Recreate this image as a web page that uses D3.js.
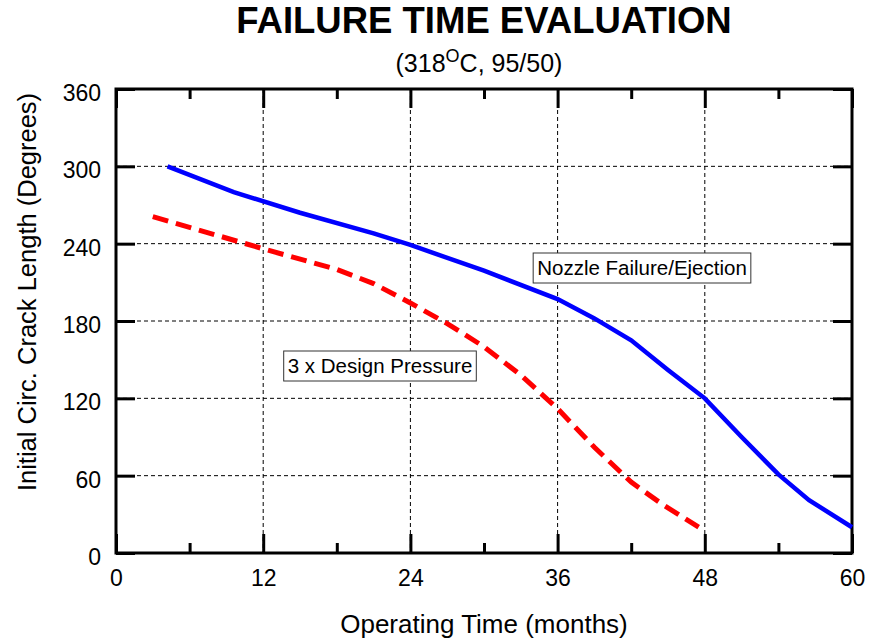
<!DOCTYPE html>
<html>
<head>
<meta charset="utf-8">
<script src="https://cdn.jsdelivr.net/npm/d3@7"></script>
<style>
  body { margin: 0; background: #fff; }
  svg { font-family: "Liberation Sans", Arial, sans-serif; }
</style>
</head>
<body>
<script>
// data (months, degrees)
const nozzleFailure = [
  [4.2, 300], [9.6, 280], [15, 264], [21, 248], [24, 239], [30, 219],
  [36, 197], [39, 182], [42, 165], [45, 142], [48, 120], [51, 90],
  [54, 61], [56.5, 41], [60, 20]
];
const designPressure = [
  [3, 261], [12, 236], [18, 220], [21, 209], [24, 194], [27, 178],
  [30, 160], [33, 138], [36, 112], [39, 82], [42, 55], [44.5, 38], [47.5, 20]
];
const xMajor = [0, 12, 24, 36, 48, 60];
const xMinor = [6, 18, 30, 42, 54];
const yMajor = [0, 60, 120, 180, 240, 300, 360];

const width = 869, height = 640;
const plotLeft = 116, plotRight = 852, plotTop = 89, plotBottom = 553;

const svg = d3.select("body").append("svg")
    .attr("width", width)
    .attr("height", height);

const x = d3.scaleLinear().domain([0, 60]).range([plotLeft, plotRight]);
const y = d3.scaleLinear().domain([0, 360]).range([plotBottom, plotTop]);

// grid
svg.append("g").selectAll("line").data(xMajor.slice(1, -1)).enter().append("line")
    .attr("x1", d => x(d)).attr("x2", d => x(d))
    .attr("y1", plotTop).attr("y2", plotBottom)
    .attr("stroke", "#000").attr("stroke-width", 1).attr("stroke-dasharray", "4,3");
svg.append("g").selectAll("line").data(yMajor.slice(1, -1)).enter().append("line")
    .attr("x1", plotLeft).attr("x2", plotRight)
    .attr("y1", d => y(d)).attr("y2", d => y(d))
    .attr("stroke", "#000").attr("stroke-width", 1).attr("stroke-dasharray", "4,3");

// axes with inward ticks
function styleAxis(g) {
  g.select(".domain").remove();
  g.selectAll(".tick line").attr("stroke", "#000").attr("stroke-width", 3);
  g.selectAll(".tick text").attr("font-size", 23).attr("fill", "#000")
    .attr("font-family", "Liberation Sans, Arial, sans-serif");
}

svg.append("g").attr("transform", `translate(0,${plotBottom})`)
    .call(d3.axisBottom(x).tickValues(xMajor).tickSize(-19).tickFormat(d3.format("d")))
    .call(styleAxis)
    .call(g => g.selectAll(".tick text").attr("y", 17));
svg.append("g").attr("transform", `translate(0,${plotBottom})`)
    .call(d3.axisBottom(x).tickValues(xMinor).tickSize(-10).tickFormat(""))
    .call(styleAxis);
svg.append("g").attr("transform", `translate(0,${plotTop})`)
    .call(d3.axisTop(x).tickValues(xMajor).tickSize(-19).tickFormat(""))
    .call(styleAxis);
svg.append("g").attr("transform", `translate(0,${plotTop})`)
    .call(d3.axisTop(x).tickValues(xMinor).tickSize(-10).tickFormat(""))
    .call(styleAxis);
svg.append("g").attr("transform", `translate(${plotLeft},0)`)
    .call(d3.axisLeft(y).tickValues(yMajor).tickSize(-19).tickFormat(d3.format("d")))
    .call(styleAxis)
    .call(g => g.selectAll(".tick text").attr("x", -15).attr("dy", "0.5em"));
svg.append("g").attr("transform", `translate(${plotRight},0)`)
    .call(d3.axisRight(y).tickValues(yMajor).tickSize(-19).tickFormat(""))
    .call(styleAxis);

// frame
svg.append("rect")
    .attr("x", plotLeft).attr("y", plotTop)
    .attr("width", plotRight - plotLeft).attr("height", plotBottom - plotTop)
    .attr("fill", "none").attr("stroke", "#000").attr("stroke-width", 3);

// series
const line = d3.line().x(d => x(d[0])).y(d => y(d[1]));

svg.append("path").datum(nozzleFailure)
    .attr("d", line)
    .attr("fill", "none").attr("stroke", "#0000ff").attr("stroke-width", 4.5);

svg.append("path").datum(designPressure)
    .attr("d", line)
    .attr("fill", "none").attr("stroke", "#ff0000").attr("stroke-width", 5)
    .attr("stroke-dasharray", "16,8");

// annotation boxes
function labelBox(text, cx, cy) {
  const g = svg.append("g");
  const t = g.append("text")
      .attr("x", cx).attr("y", cy)
      .attr("text-anchor", "middle").attr("dy", "0.36em")
      .attr("font-size", 20.5).attr("fill", "#000")
      .text(text);
  const b = t.node().getBBox();
  g.insert("rect", "text")
      .attr("x", b.x - 4).attr("y", cy - 15)
      .attr("width", b.width + 8).attr("height", 30)
      .attr("fill", "#fff").attr("stroke", "#333").attr("stroke-width", 1);
}
labelBox("Nozzle Failure/Ejection", 642, 268);
labelBox("3 x Design Pressure", 380, 366);

// titles
svg.append("text")
    .attr("x", 484).attr("y", 33)
    .attr("text-anchor", "middle")
    .attr("font-size", 36.5).attr("font-weight", "bold")
    .text("FAILURE TIME EVALUATION");

const sub = svg.append("text")
    .attr("x", 479).attr("y", 72)
    .attr("text-anchor", "middle")
    .attr("font-size", 25);
sub.append("tspan").text("(318");
sub.append("tspan").attr("font-size", 18).attr("dy", -10).text("O");
sub.append("tspan").attr("dy", 10).text("C, 95/50)");

svg.append("text")
    .attr("x", 484).attr("y", 633)
    .attr("text-anchor", "middle")
    .attr("font-size", 26)
    .text("Operating Time (months)");

svg.append("text")
    .attr("transform", `translate(36,292) rotate(-90)`)
    .attr("text-anchor", "middle")
    .attr("font-size", 25.5)
    .text("Initial Circ. Crack Length (Degrees)");
</script>
</body>
</html>
